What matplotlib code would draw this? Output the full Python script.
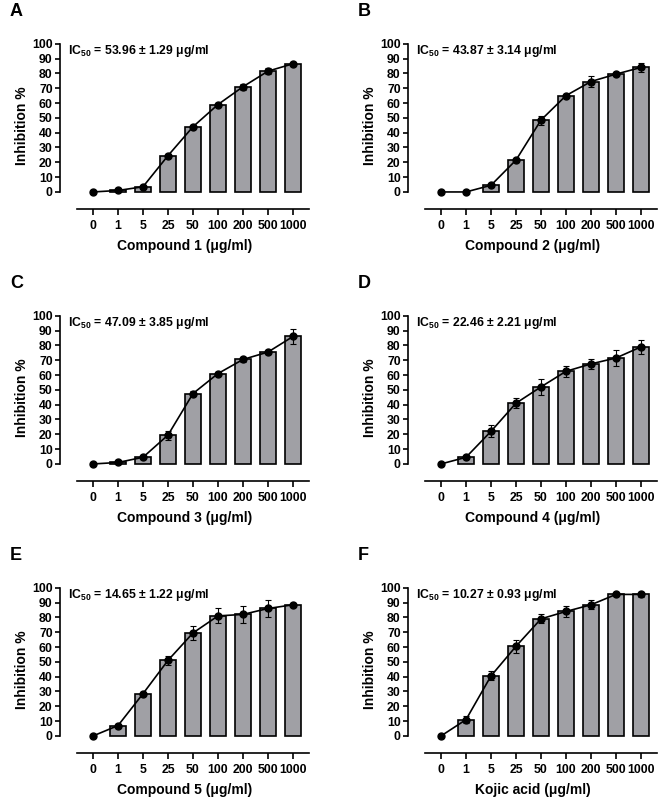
import matplotlib
matplotlib.use('Agg')
import matplotlib.pyplot as plt
import numpy as np

plt.rcParams['font.family'] = ['Liberation Sans', 'DejaVu Sans']
plt.rcParams['font.weight'] = 'bold'
plt.rcParams['mathtext.fontset'] = 'custom'
plt.rcParams['mathtext.bf'] = 'Liberation Sans:bold'
plt.rcParams['mathtext.rm'] = 'Liberation Sans:bold'

# Data
concentrations = ['0', '1', '5', '25', '50', '100', '200', '500', '1000']
panel_letters = ['A', 'B', 'C', 'D', 'E', 'F']
x_labels = ['Compound 1 (μg/ml)', 'Compound 2 (μg/ml)', 'Compound 3 (μg/ml)',
            'Compound 4 (μg/ml)', 'Compound 5 (μg/ml)', 'Kojic acid (μg/ml)']
ic50_texts = ['53.96 ± 1.29', '43.87 ± 3.14', '47.09 ± 3.85',
              '22.46 ± 2.21', '14.65 ± 1.22', '10.27 ± 0.93']

comp1 = [0, 1, 3.5, 24.5, 44, 59, 71, 81.5, 86.5]
comp1_err = [0, 0.5, 0.8, 1, 1, 1, 2, 2, 1.5]
comp2 = [0, 0, 4.5, 21.5, 48.5, 65, 74.5, 79.5, 84]
comp2_err = [0, 0, 0.8, 1, 3, 1, 3.5, 1.5, 3]
comp3 = [0, 1, 4.5, 19.5, 47.5, 61, 70.5, 75.5, 86]
comp3_err = [0, 0.5, 0.8, 3, 1.5, 1, 2, 1, 5]
comp4 = [0, 4.5, 22, 41, 52, 62.5, 67.5, 71.5, 79]
comp4_err = [0, 1, 4, 3.5, 5.5, 3.5, 3.5, 5.5, 4.5]
comp5 = [0, 7, 28.5, 51, 69.5, 81, 82, 86, 88.5]
comp5_err = [0, 1, 1, 3, 4.5, 5, 5.5, 5.5, 1]
kojic = [0, 11, 40.5, 60.5, 79, 84, 88.5, 95.5, 95.5]
kojic_err = [0, 2.5, 3, 4.5, 3, 4, 3, 1, 1.5]

series = [comp1, comp2, comp3, comp4, comp5, kojic]
errors = [comp1_err, comp2_err, comp3_err, comp4_err, comp5_err, kojic_err]

W, H = 660, 798
fig = plt.figure(figsize=(W / 100, H / 100), dpi=100)

# axes boxes in pixels: (left, top)
col_left = [60, 408]
row_top = [43, 315, 587]
ax_w, ax_h = 250, 166

bar_color = '#a0a0a5'
x = np.arange(len(concentrations))

for i in range(6):
    r, c = divmod(i, 2)
    left = col_left[c]
    top = row_top[r]
    ax = fig.add_axes([left / W, 1 - (top + ax_h) / H, ax_w / W, ax_h / H])

    vals = np.array(series[i], dtype=float)
    errs = np.array(errors[i], dtype=float)
    mask = vals > 0
    ax.bar(x[mask], vals[mask], width=0.66, color=bar_color,
           edgecolor='black', linewidth=1.2, zorder=2)
    ax.errorbar(x, vals, yerr=errs, fmt='-o', color='black', lw=1.2,
                markersize=5, elinewidth=0.8, capsize=2.3, capthick=0.8, zorder=3)

    ax.set_xlim(-1.32, 8.68)
    ax.set_ylim(-11.5, 100.5)
    ax.set_yticks(range(0, 101, 10))
    ax.set_xticks(x)
    ax.set_xticklabels(concentrations)

    for s in ['top', 'right']:
        ax.spines[s].set_visible(False)
    ax.spines['left'].set_bounds(0, 100)
    ax.spines['bottom'].set_bounds(-0.65, 8.65)
    ax.spines['left'].set_linewidth(1.2)
    ax.spines['bottom'].set_linewidth(1.2)

    ax.tick_params(axis='y', labelsize=8.8, length=3.8, width=1.2, pad=1.5)
    ax.tick_params(axis='x', labelsize=8.8, length=4.5, width=1.2, pad=3.5)
    for lab in ax.get_xticklabels() + ax.get_yticklabels():
        lab.set_fontweight('bold')

    ax.set_ylabel('Inhibition %', fontsize=10, fontweight='bold', labelpad=2)
    ax.set_xlabel(x_labels[i], fontsize=10, fontweight='bold', labelpad=5)

    ax.text(-1.0, 95, r'$\mathbf{IC_{50}}$ = ' + ic50_texts[i] + ' μg/ml',
            fontsize=8.8, fontweight='bold', va='center', ha='left')

    fig.text((left - 50) / W, 1 - (top - 31) / H, panel_letters[i],
             fontsize=13, fontweight='bold', va='center', ha='left')

plt.savefig('out.png', dpi=100, facecolor='white')
